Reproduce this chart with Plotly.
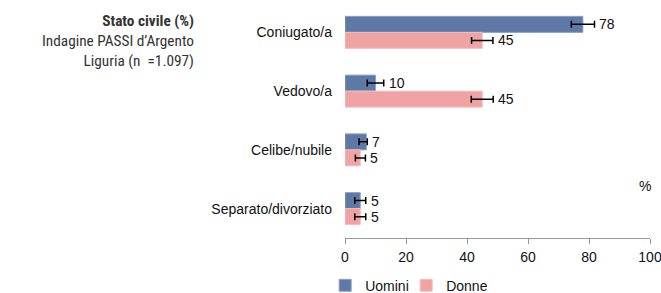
import plotly.graph_objects as go

categories = ["Coniugato/a", "Vedovo/a", "Celibe/nubile", "Separato/divorziato"]
uomini = [78, 10, 7, 5]
donne = [45, 45, 5, 5]
uomini_err_plus = [3.8, 2.7, 0.3, 1.8]
uomini_err_minus = [3.8, 2.7, 2.4, 1.8]
donne_err_plus = [3.5, 3.6, 1.7, 1.8]
donne_err_minus = [3.5, 3.6, 1.6, 1.8]
x_ticks = [0, 20, 40, 60, 80, 100]

BLUE = "#5E79A5"
PINK = "#EFA3A3"
FONT = "Arial, Liberation Sans, sans-serif"
NARROW = "Liberation Sans Narrow, Roboto Condensed, Arial, sans-serif"

fig = go.Figure()
fig.add_trace(go.Bar(
    name="Uomini", y=categories, x=uomini, orientation="h",
    marker=dict(color=BLUE, line=dict(color="#8EA2C4", width=1)),
    error_x=dict(type="data", array=uomini_err_plus, arrayminus=uomini_err_minus,
                 symmetric=False, color="black", thickness=1.5, width=3.5),
))
fig.add_trace(go.Bar(
    name="Donne", y=categories, x=donne, orientation="h",
    marker=dict(color=PINK, line=dict(color="#F4C0C0", width=1)),
    error_x=dict(type="data", array=donne_err_plus, arrayminus=donne_err_minus,
                 symmetric=False, color="black", thickness=1.5, width=3.5),
))

for cat, v, e in zip(categories, uomini, uomini_err_plus):
    fig.add_annotation(x=v + e, y=cat, text=str(v), showarrow=False,
                       xanchor="left", xshift=3, yshift=8,
                       font=dict(family=FONT, size=14, color="#111"))
for cat, v, e in zip(categories, donne, donne_err_plus):
    fig.add_annotation(x=v + e, y=cat, text=str(v), showarrow=False,
                       xanchor="left", xshift=3, yshift=-8,
                       font=dict(family=FONT, size=14, color="#111"))

fig.add_annotation(xref="paper", yref="paper", x=-0.498, y=1, yshift=-7, xshift=3,
                   xanchor="right", yanchor="top", align="right", showarrow=False,
                   text="<b>Stato civile (%)</b><br>Indagine PASSI d’Argento<br>Liguria (n  =1.097)",
                   font=dict(family=NARROW, size=15.3, color="#333333"))
fig.add_annotation(xref="paper", yref="paper", x=0.984, y=0.221, showarrow=False,
                   xanchor="center", yanchor="middle",
                   text="%", font=dict(family=FONT, size=14, color="#111"))

fig.update_layout(
    width=661, height=293,
    margin=dict(l=345, r=11, t=3, b=55, autoexpand=False),
    paper_bgcolor="white", plot_bgcolor="white",
    barmode="group", bargap=0.455, bargroupgap=0,
    showlegend=True,
    legend=dict(orientation="h", x=-0.065, y=-0.135, xanchor="left", yanchor="top",
                font=dict(family=FONT, size=14, color="#111"),
                traceorder="normal", itemwidth=30, tracegroupgap=0,
                entrywidth=36, entrywidthmode="pixels"),
    font=dict(family=FONT, size=14, color="#111"),
)
fig.update_xaxes(range=[0, 100], tickvals=x_ticks, showgrid=False, zeroline=False,
                 showline=True, linecolor="#999999", linewidth=1, automargin=False,
                 ticks="outside", ticklen=5, tickcolor="#999999", ticklabelstandoff=1,
                 ticklabeloverflow="allow",
                 tickfont=dict(family=FONT, size=14, color="#111"))
fig.update_yaxes(autorange="reversed", showgrid=False, zeroline=False, showline=False,
                 ticks="", ticklabelstandoff=12, automargin=False,
                 tickfont=dict(family=FONT, size=14, color="#111"))

fig.write_html("out.html", config={"displayModeBar": False},
               post_script="document.body.style.margin='0';")
